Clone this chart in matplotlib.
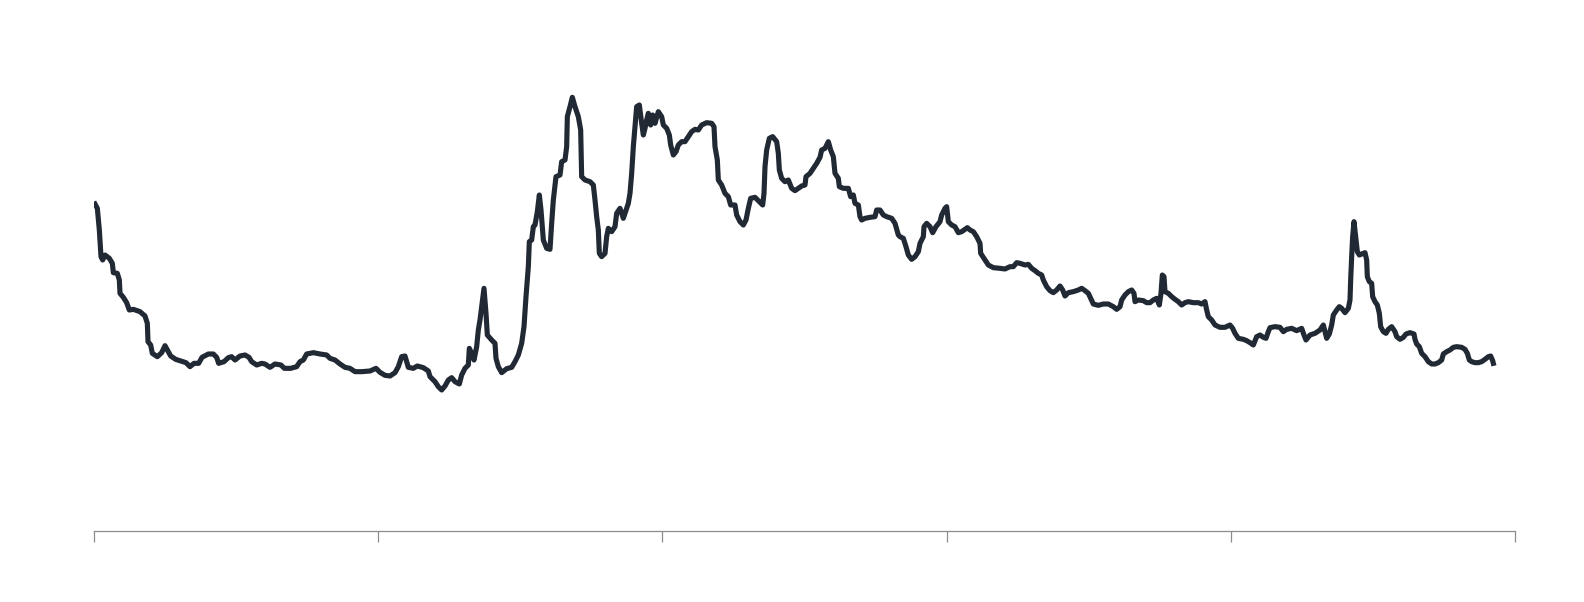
import matplotlib
matplotlib.use("Agg")
import matplotlib.pyplot as plt
import numpy as np

# Series (x = day index, y = index level)
days = [
    3, 10, 16, 21, 26, 33, 46, 55, 58, 70, 76, 78, 88, 98, 106, 118, 138, 153, 160, 162,
    170, 175, 190, 203, 213, 220, 230, 245, 260, 276, 288, 300, 314, 324, 343, 358, 368, 374, 390, 403,
    413, 423, 438, 453, 465, 473, 488, 503, 513, 528, 543, 561, 571, 590, 608, 618, 628, 638, 658, 678,
    698, 708, 723, 738, 753, 768, 783, 803, 828, 846, 858, 873, 888, 903, 913, 923, 933, 943, 958, 970,
    988, 1003, 1008, 1023, 1033, 1043, 1053, 1063, 1073, 1083, 1096, 1103, 1113, 1123, 1126, 1133, 1140, 1148, 1153, 1158,
    1163, 1170, 1176, 1180, 1193, 1203,
    1206, 1213, 1223, 1238, 1253, 1263, 1273, 1283, 1290, 1296, 1303, 1306, 1313, 1318, 1323, 1330, 1336, 1341, 1348, 1358,
    1368, 1373, 1378, 1386, 1398, 1403, 1413, 1418, 1420, 1428, 1435, 1443, 1453, 1460, 1463, 1473, 1488, 1498, 1503, 1508,
    1513, 1516, 1523, 1533, 1538, 1543, 1553, 1563, 1568, 1578, 1588, 1598, 1603, 1608, 1613, 1618, 1623, 1628, 1636, 1643,
    1648, 1653, 1658, 1663, 1670, 1676, 1683, 1693, 1703, 1708, 1718, 1726, 1730, 1738, 1746, 1753, 1763, 1773, 1783, 1793,
    1803, 1813, 1823, 1838, 1853, 1860, 1863, 1870, 1873, 1883, 1893, 1903, 1910, 1923, 1928, 1938, 1948, 1956, 1963, 1970,
    1983, 1996, 2006, 2010, 2013, 2018, 2026, 2036, 2048, 2053, 2056, 2063, 2073, 2083, 2093, 2103, 2113, 2123, 2133, 2136,
    2148, 2158, 2168, 2178, 2183, 2193, 2203, 2210, 2218, 2223, 2233, 2236, 2248, 2263, 2270, 2278, 2283, 2293, 2298, 2303,
    2313, 2328, 2343, 2348, 2358, 2368, 2378, 2393, 2403, 2413,
    2418, 2428, 2436, 2443, 2453, 2463, 2473, 2478, 2488, 2490, 2498, 2508, 2516, 2526, 2538, 2543, 2553, 2558, 2563, 2573,
    2583, 2593, 2603, 2613, 2620, 2628, 2638, 2648, 2658, 2660, 2673, 2683, 2698, 2718, 2733, 2748, 2758, 2768, 2778, 2793,
    2803, 2813, 2823, 2833, 2843, 2848, 2858, 2868, 2878, 2888, 2898, 2906, 2913, 2923, 2938, 2953, 2963, 2973, 2983, 2990,
    2998, 3013, 3028, 3043, 3058, 3068, 3078, 3083, 3093, 3103, 3113, 3120, 3123, 3133, 3148, 3158, 3168, 3178, 3188, 3196,
    3201, 3205, 3210, 3213, 3223, 3233, 3243, 3253, 3263, 3273, 3283, 3298, 3313, 3323, 3333, 3338, 3343, 3353, 3363, 3378,
    3393, 3408, 3416, 3423, 3433, 3448, 3458, 3468, 3478, 3488, 3498, 3508, 3516, 3523, 3528, 3543, 3558, 3568, 3578, 3593,
    3608,
    3623, 3630, 3636, 3648, 3663, 3678, 3688, 3693, 3698, 3706, 3713, 3718, 3728, 3736, 3743, 3753, 3763, 3768, 3770, 3773,
    3776, 3780, 3786, 3790, 3796, 3803, 3813, 3818, 3820, 3826, 3833, 3836, 3843, 3850, 3856, 3860, 3868, 3876, 3883, 3893,
    3903, 3908, 3918, 3928, 3936, 3948, 3960, 3963, 3968, 3976, 3983, 3993, 4003, 4013, 4023, 4033, 4043, 4048, 4058, 4068,
    4078, 4088, 4103, 4113, 4120, 4126, 4133, 4143, 4153, 4163, 4173, 4183, 4190, 4196, 4198,
]

level = [
    981, 968, 903, 823, 813, 828, 818, 803, 775, 773, 753, 713, 701, 685, 663, 665, 658, 645, 623, 568,
    558, 533, 523, 535, 556, 543, 525, 515, 510, 505, 493, 503, 503, 521, 531, 531, 521, 503, 508, 520,
    523, 513, 525, 528, 521, 508, 498, 503, 501, 491, 501, 498, 488, 488, 493, 508, 513, 531, 535, 531,
    528, 518, 513, 501, 491, 488, 478, 478, 480, 488, 476, 467, 465, 475, 493, 523, 525, 491, 488, 495,
    490, 480, 463, 448, 433, 423, 435, 453, 460, 448, 441, 468, 488, 498, 548, 533, 513, 553, 603, 633,
    673, 728, 653, 588, 573, 563,
    518, 493, 475, 487, 491, 508, 528, 563, 613, 703, 793, 868, 873, 913, 918, 958, 1008, 963, 873, 848,
    845, 923, 993, 1063, 1068, 1108, 1113, 1153, 1243, 1273, 1301, 1273, 1243, 1203, 1063, 1053, 1048, 1038, 993, 943,
    903, 833, 823, 833, 883, 908, 898, 913, 953, 968, 938, 968, 983, 1013, 1073, 1153, 1213, 1273, 1278, 1223,
    1188, 1208, 1233, 1253, 1218, 1248, 1223, 1258, 1243, 1218, 1208, 1188, 1158, 1128, 1138, 1158, 1168, 1168, 1183, 1198,
    1205, 1203, 1218, 1225, 1223, 1213, 1153, 1113, 1053, 1038, 1013, 1003, 978, 978, 948, 928, 918, 933, 968, 998,
    1001, 988, 978, 1013, 1093, 1143, 1178, 1183, 1168, 1133, 1083, 1058, 1048, 1053, 1028, 1021, 1028, 1035, 1038, 1063,
    1073, 1088, 1103, 1121, 1143, 1148, 1168, 1143, 1123, 1073, 1058, 1033, 1028, 1028, 1003, 1008, 983, 978, 943, 933,
    938, 941, 943, 963, 963, 948, 943, 938, 923, 888,
    883, 878, 853, 828, 815, 823, 838, 863, 883, 913, 923, 913, 895, 913, 928, 948, 968, 973, 928, 918,
    913, 895, 898, 905, 910, 903, 898, 883, 863, 833, 813, 798, 790, 788, 786, 793, 793, 805, 803, 798,
    800, 788, 781, 773, 768, 753, 733, 721, 715, 723, 735, 723, 705, 715, 718, 723, 728, 721, 713, 698,
    681, 677, 681, 681, 673, 665, 673, 693, 708, 718, 723, 713, 688, 693, 691, 685, 685, 693, 698, 678,
    713, 768, 763, 718, 713, 703, 695, 688, 678, 685, 688, 685, 685, 681, 688, 663, 643, 633, 618, 611,
    611, 618, 608, 593, 578, 575, 571, 565, 558, 583, 588, 581, 578, 598, 610, 613, 611, 598, 605, 608,
    601,
    608, 588, 573, 588, 593, 603, 618, 598, 578, 591, 618, 648, 663, 673, 668, 655, 668, 693, 753, 823,
    883, 928, 873, 838, 828, 831, 835, 813, 763, 748, 743, 703, 688, 678, 653, 613, 598, 593, 605, 613,
    598, 583, 575, 581, 591, 595, 591, 575, 561, 553, 533, 523, 508, 501, 501, 505, 513, 531, 538, 543,
    551, 553, 551, 545, 533, 513, 508, 505, 505, 508, 515, 523, 525, 511, 503,
]

x_ticks = np.linspace(0, 4263, 6)

line_color = "#212935"
axis_color = "#8c8c8c"

fig = plt.figure(figsize=(15.84, 6.02), dpi=100)
ax = fig.add_axes([94 / 1584, 71 / 602, 1421 / 1584, 491 / 602])

ax.plot(days, level, color=line_color, linewidth=3.7, solid_joinstyle="round")

ax.set_xlim(0, 4263)
ax.set_ylim(0, 1473)

# only the bottom axis is shown, with unlabeled ticks
ax.spines[["left", "right", "top"]].set_visible(False)
ax.spines["bottom"].set_color(axis_color)
ax.spines["bottom"].set_linewidth(0.9)
ax.set_xticks(x_ticks)
ax.set_xticklabels([])
ax.set_yticks([])
ax.tick_params(axis="x", length=8, width=0.9, color=axis_color)

fig.savefig("out.png", dpi=100)
plt.close(fig)
